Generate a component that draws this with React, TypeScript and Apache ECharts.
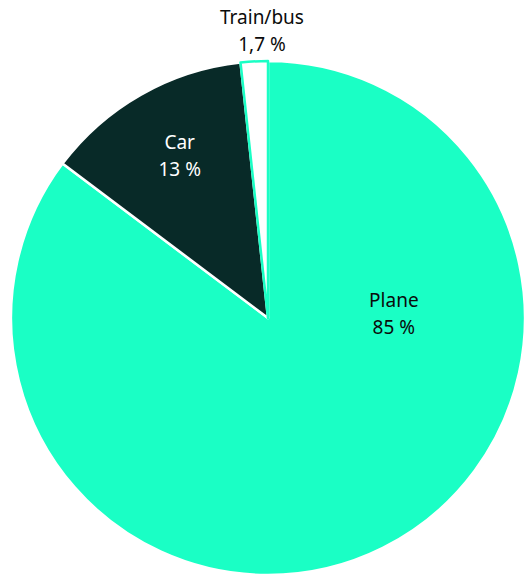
import React, { useEffect, useRef } from "react";
import * as echarts from "echarts";

const categories = ["Plane", "Car", "Train/bus"];
const values = [85, 13, 1.7];
const valueLabels = ["85 %", "13 %", "1,7 %"];
const fillColors = ["#1affc5", "#082a28", "#ffffff"];
const borderColors = ["#ffffff", "#ffffff", "#1affc5"];
const textColors = ["#0b0b0b", "#ffffff", "#0b0b0b"];
// label placement: angle (deg clockwise from 12 o'clock), fraction of radius
const labelAngles = [88, -28.5, -1.2];
const labelRadii = [0.49, 0.72, 1.12];

const W = 524;
const H = 575;
const CX = 268;
const CY = 318;
const R = 257;

export default function App() {
  const ref = useRef<HTMLDivElement>(null);
  useEffect(() => {
    document.body.style.margin = "0";
    const chart = echarts.init(ref.current!, null, { renderer: "svg" });
    chart.setOption({
      animation: false,
      backgroundColor: "#ffffff",
      series: [
        {
          type: "pie",
          center: [CX, CY],
          radius: [0, R],
          startAngle: 90,
          clockwise: true,
          avoidLabelOverlap: false,
          labelLine: { show: false },
          data: categories.map((c, i) => ({
            name: c,
            value: values[i],
            itemStyle: {
              color: fillColors[i],
              borderColor: borderColors[i],
              borderWidth: 2.5,
            },
            label: {
              show: true,
              position: "inside",
              formatter: `${c}\n${valueLabels[i]}`,
              color: textColors[i],
              fontFamily: "Noto Sans",
              fontSize: 19,
              lineHeight: 27,
              align: "center",
              verticalAlign: "middle",
            },
          })),
          labelLayout: (p: any) => {
            const i = p.dataIndex;
            const a = (labelAngles[i] * Math.PI) / 180;
            const r = labelRadii[i] * R;
            return {
              x: CX + r * Math.sin(a),
              y: CY - r * Math.cos(a),
              align: "center",
              verticalAlign: "middle",
            };
          },
        },
      ],
    });
    return () => chart.dispose();
  }, []);
  return <div ref={ref} style={{ width: W, height: H }} />;
}
